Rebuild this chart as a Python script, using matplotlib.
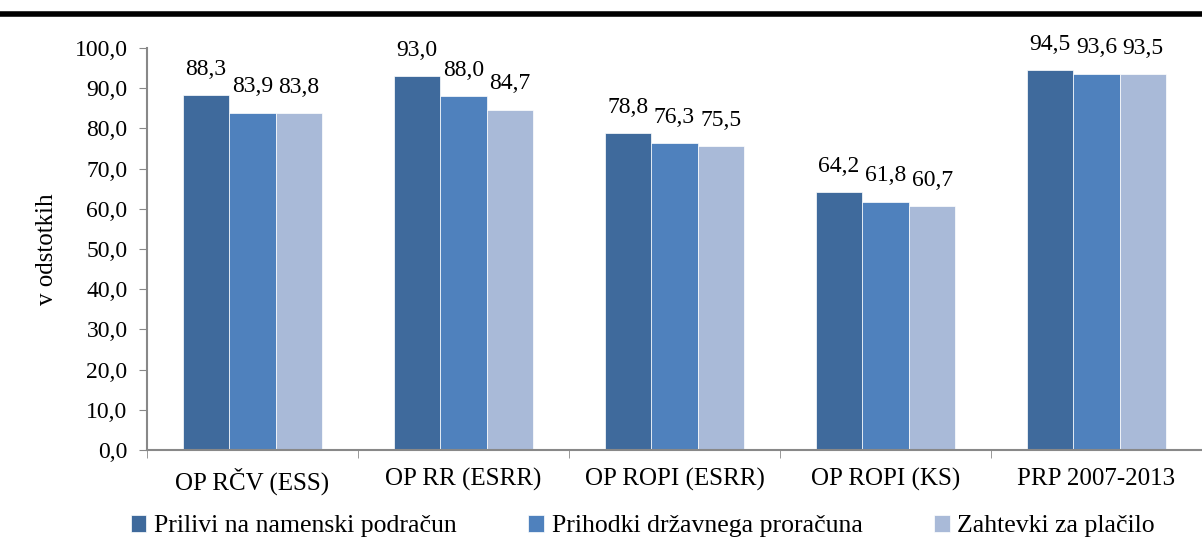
import numpy as np
import matplotlib.pyplot as plt

categories = ['OP RČV (ESS)', 'OP RR (ESRR)', 'OP ROPI (ESRR)', 'OP ROPI (KS)', 'PRP 2007-2013']
series_names = ['Prilivi na namenski podračun', 'Prihodki državnega proračuna', 'Zahtevki za plačilo']
prilivi = [88.3, 93.0, 78.8, 64.2, 94.5]
prihodki = [83.9, 88.0, 76.3, 61.8, 93.6]
zahtevki = [83.8, 84.7, 75.5, 60.7, 93.5]
colors = ['#3F6A9C', '#4F81BD', '#A9BAD8']

plt.rcParams['font.family'] = ['Liberation Serif', 'DejaVu Serif']
plt.rcParams['font.size'] = 17

fig = plt.figure(figsize=(12.02, 5.44), dpi=100)
ax = fig.add_axes([147 / 1202, 1 - 450 / 544, 1055 / 1202, 402 / 544])

# thick rule at the top of the page
fig.add_artist(plt.Line2D([0, 1], [1 - 14 / 544, 1 - 14 / 544], color='black', lw=4,
                          transform=fig.transFigure))

x = np.arange(len(categories))
w = 0.221
for i, (vals, name) in enumerate(zip([prilivi, prihodki, zahtevki], series_names)):
    bars = ax.bar(x + (i - 1) * w, vals, w, color=colors[i], label=name,
                  edgecolor='white', linewidth=0.5)
    for b, v in zip(bars, vals):
        ax.text(b.get_x() + b.get_width() / 2, v + 3.8, ('%.1f' % v).replace('.', ','),
                ha='center', va='bottom', fontsize=17)

ax.set_xlim(-0.5, len(categories) - 0.5)
ax.set_ylim(0, 100)
ax.set_yticks(np.arange(0, 101, 10))
ax.set_yticklabels([('%.1f' % t).replace('.', ',') for t in np.arange(0, 101, 10)])
ax.set_xticks(x)
ax.set_xticklabels(categories, fontsize=18)
ax.set_xticks(np.arange(-0.5, len(categories)), minor=True)
ax.tick_params(axis='x', which='major', length=0, pad=13)
ax.tick_params(axis='x', which='minor', length=6, color='#888888')
ax.tick_params(axis='y', length=6, color='#888888', pad=8)
for s in ['top', 'right']:
    ax.spines[s].set_visible(False)
ax.spines['left'].set_color('#888888')
ax.spines['bottom'].set_color('#888888')
ax.spines['left'].set_linewidth(1.5)
ax.spines['bottom'].set_linewidth(1.5)
ax.set_ylabel('v odstotkih', fontsize=18, labelpad=12)

ax.legend(loc='center', bbox_to_anchor=(0.47, -0.19), ncol=3, frameon=False,
          handlelength=0.6, handleheight=0.6, handletextpad=0.3, columnspacing=2.8,
          fontsize=18.5, borderaxespad=0)

fig.savefig('out.png', dpi=100)
